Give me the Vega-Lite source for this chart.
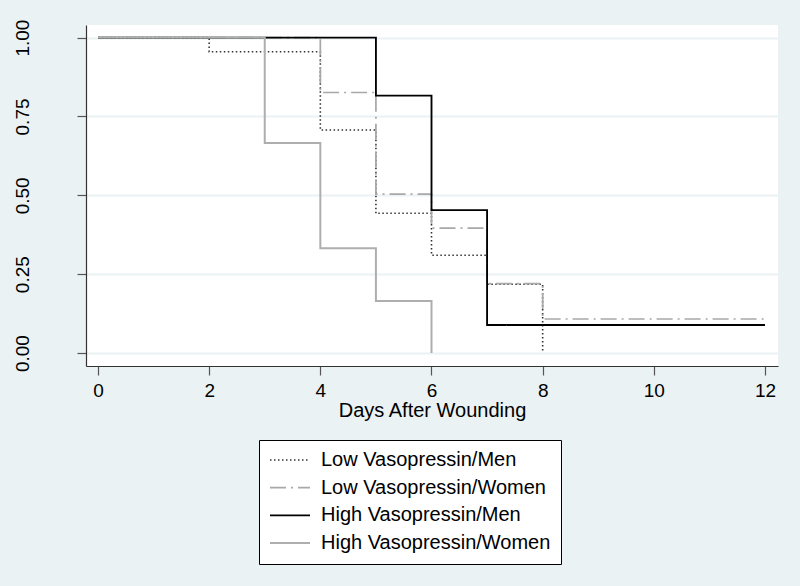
{
  "$schema": "https://vega.github.io/schema/vega-lite/v6.json",
  "autosize": {"type": "none"},
  "width": 692,
  "height": 341,
  "padding": {"left": 86, "top": 25, "right": 22, "bottom": 220},
  "background": "#EAF2F3",
  "config": {
    "font": "Liberation Sans",
    "view": {"fill": "white", "stroke": null}
  },
  "data": {
    "values": [
      {"group": "Low Vasopressin/Men", "day": 0, "surv": 1.0},
      {"group": "Low Vasopressin/Men", "day": 2, "surv": 0.955},
      {"group": "Low Vasopressin/Men", "day": 4, "surv": 0.707},
      {"group": "Low Vasopressin/Men", "day": 5, "surv": 0.443},
      {"group": "Low Vasopressin/Men", "day": 6, "surv": 0.31},
      {"group": "Low Vasopressin/Men", "day": 7, "surv": 0.218},
      {"group": "Low Vasopressin/Men", "day": 8, "surv": 0.0},
      {"group": "Low Vasopressin/Women", "day": 0, "surv": 1.0},
      {"group": "Low Vasopressin/Women", "day": 4, "surv": 0.826},
      {"group": "Low Vasopressin/Women", "day": 5, "surv": 0.504},
      {"group": "Low Vasopressin/Women", "day": 6, "surv": 0.396},
      {"group": "Low Vasopressin/Women", "day": 7, "surv": 0.22},
      {"group": "Low Vasopressin/Women", "day": 8, "surv": 0.108},
      {"group": "Low Vasopressin/Women", "day": 12, "surv": 0.108},
      {"group": "High Vasopressin/Men", "day": 0, "surv": 1.0},
      {"group": "High Vasopressin/Men", "day": 5, "surv": 0.816},
      {"group": "High Vasopressin/Men", "day": 6, "surv": 0.453},
      {"group": "High Vasopressin/Men", "day": 7, "surv": 0.089},
      {"group": "High Vasopressin/Men", "day": 12, "surv": 0.089},
      {"group": "High Vasopressin/Women", "day": 0, "surv": 1.0},
      {"group": "High Vasopressin/Women", "day": 3, "surv": 0.666},
      {"group": "High Vasopressin/Women", "day": 4, "surv": 0.332},
      {"group": "High Vasopressin/Women", "day": 5, "surv": 0.165},
      {"group": "High Vasopressin/Women", "day": 6, "surv": 0.0}
    ]
  },
  "mark": {"type": "line", "interpolate": "step-after"},
  "encoding": {
    "x": {
      "field": "day",
      "type": "quantitative",
      "scale": {"domain": [-0.216, 12.234], "nice": false, "zero": false},
      "axis": {
        "title": "Days After Wounding",
        "values": [0, 2, 4, 6, 8, 10, 12],
        "grid": false,
        "domainColor": "#333333",
        "domainWidth": 1.2,
        "tickColor": "#555555",
        "tickSize": 9,
        "tickWidth": 1.2,
        "labelFontSize": 19,
        "labelColor": "black",
        "labelPadding": 6,
        "titleFontSize": 20,
        "titleFontWeight": "normal",
        "titleColor": "black",
        "titlePadding": 0
      }
    },
    "y": {
      "field": "surv",
      "type": "quantitative",
      "scale": {"domain": [-0.041, 1.04], "nice": false, "zero": false},
      "axis": {
        "title": null,
        "values": [0, 0.25, 0.5, 0.75, 1],
        "format": ".2f",
        "grid": true,
        "gridColor": "#EAF2F3",
        "gridWidth": 1.8,
        "domainColor": "#333333",
        "domainWidth": 1.2,
        "tickColor": "#555555",
        "tickSize": 9,
        "tickWidth": 1.2,
        "labelFontSize": 19,
        "labelColor": "black",
        "labelAngle": 270,
        "labelAlign": "center",
        "labelBaseline": "middle",
        "labelPadding": 55
      }
    },
    "color": {
      "field": "group",
      "type": "nominal",
      "scale": {
        "domain": ["Low Vasopressin/Men", "Low Vasopressin/Women", "High Vasopressin/Men", "High Vasopressin/Women"],
        "range": ["#333333", "#A8A8A8", "#000000", "#AEAEAE"]
      },
      "legend": {
        "title": null,
        "orient": "none",
        "legendX": 173,
        "legendY": 415,
        "direction": "vertical",
        "strokeColor": "black",
        "fillColor": "white",
        "padding": 10,
        "symbolType": "stroke",
        "symbolSize": 1600,
        "symbolStrokeWidth": 2,
        "clipHeight": 20,
        "labelFontSize": 20,
        "labelColor": "black",
        "labelOffset": 10,
        "labelLimit": 400,
        "rowPadding": 7.7
      }
    },
    "strokeDash": {
      "field": "group",
      "type": "nominal",
      "scale": {
        "domain": ["Low Vasopressin/Men", "Low Vasopressin/Women", "High Vasopressin/Men", "High Vasopressin/Women"],
        "range": [[1.5, 2.5], [16, 5, 2, 5], [1, 0], [1, 0]]
      },
      "legend": null
    },
    "strokeWidth": {
      "field": "group",
      "type": "nominal",
      "scale": {
        "domain": ["Low Vasopressin/Men", "Low Vasopressin/Women", "High Vasopressin/Men", "High Vasopressin/Women"],
        "range": [1.6, 2, 2.2, 2.6]
      },
      "legend": null
    }
  }
}
